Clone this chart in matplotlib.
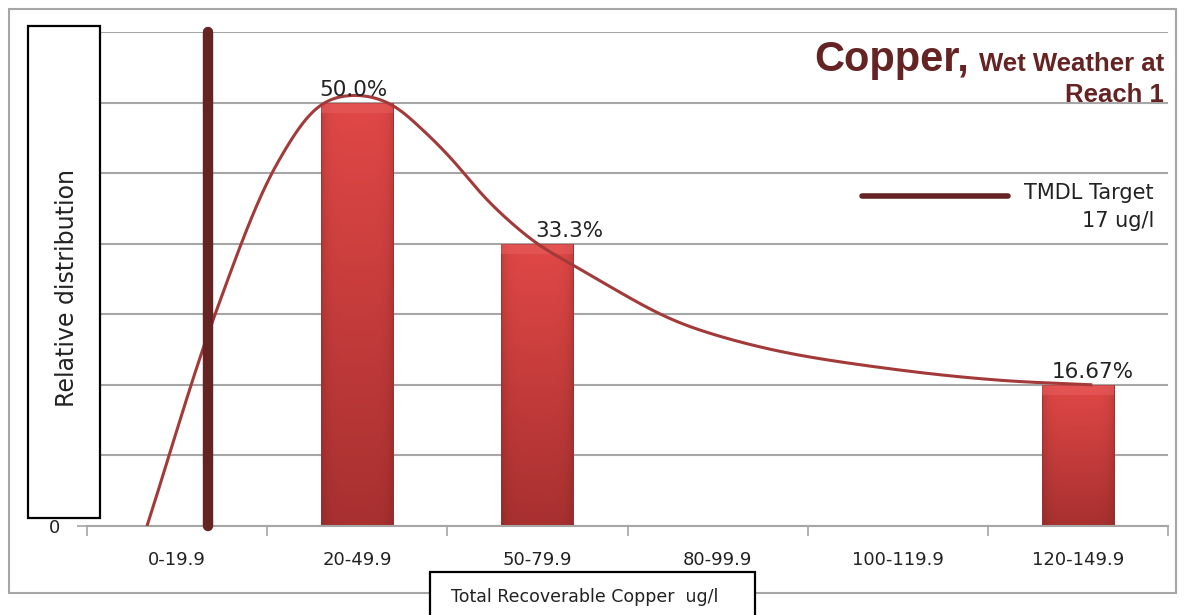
import matplotlib
matplotlib.use("Agg")
import matplotlib.pyplot as plt
import numpy as np
from matplotlib.patches import Rectangle
from matplotlib.lines import Line2D

# Category bins and relative distribution of samples
categories = ["0-19.9", "20-49.9", "50-79.9", "80-99.9", "100-119.9", "120-149.9"]
shares = [0.0, 0.5, 0.333, 0.0, 0.0, 0.1667]
share_labels = ["", "50.0%", "33.3%", "", "", "16.67%"]
label_x = [0.0, 0.98, 2.18, 3.0, 4.0, 5.08]

# Smoothed distribution curve (category units, relative share)
curve_x = [-0.167, 0.211, 0.56, 0.811, 1.006, 1.183,
           1.367, 1.517, 1.739, 2.0, 2.183, 2.311, 2.683,
           2.906, 3.35, 4.017, 4.572, 5.08]
curve_y = [0.0, 0.25, 0.43, 0.5, 0.509, 0.499,
           0.467, 0.435, 0.381, 0.333, 0.31, 0.294, 0.25,
           0.231, 0.206, 0.184, 0.172, 0.1667]

tmdl_x = 0.172  # 17 ug/l within the first bin
y_max = 7 / 12

W, H = 1186, 615
MAROON = "#652323"
CURVE = "#A33A3A"
GRID = "#A6A6A6"
SX, SY = 180.0, 848.0  # pixels per category / per unit share


def fig_xy(x, y):
    """Pixel position (from top-left) to figure fraction."""
    return x / W, 1 - y / H


def catmull_rom(p, n=40, alpha=0.5):
    """Centripetal Catmull-Rom spline through the rows of p."""
    pts = np.vstack([2 * p[0] - p[1], p, 2 * p[-1] - p[-2]])
    out = []
    for i in range(1, len(pts) - 2):
        p0, p1, p2, p3 = pts[i - 1], pts[i], pts[i + 1], pts[i + 2]
        t0 = 0.0
        t1 = t0 + np.linalg.norm(p1 - p0) ** alpha
        t2 = t1 + np.linalg.norm(p2 - p1) ** alpha
        t3 = t2 + np.linalg.norm(p3 - p2) ** alpha
        t = np.linspace(t1, t2, n, endpoint=False)[:, None]
        a1 = (t1 - t) / (t1 - t0) * p0 + (t - t0) / (t1 - t0) * p1
        a2 = (t2 - t) / (t2 - t1) * p1 + (t - t1) / (t2 - t1) * p2
        a3 = (t3 - t) / (t3 - t2) * p2 + (t - t2) / (t3 - t2) * p3
        b1 = (t2 - t) / (t2 - t0) * a1 + (t - t0) / (t2 - t0) * a2
        b2 = (t3 - t) / (t3 - t1) * a2 + (t - t1) / (t3 - t1) * a3
        out.append((t2 - t) / (t2 - t1) * b1 + (t - t1) / (t2 - t1) * b2)
    out.append(pts[-2][None, :])
    return np.vstack(out)


def smooth_curve(xs, ys, sigma=10.0):
    """Spline through the points, resampled by arc length and lightly
    gaussian-smoothed so the stroke has no visible corners."""
    p = catmull_rom(np.column_stack([np.asarray(xs) * SX, np.asarray(ys) * SY]))
    s = np.concatenate([[0], np.cumsum(np.hypot(*np.diff(p, axis=0).T))])
    s_new = np.append(np.arange(0, s[-1], 1.0), s[-1])
    x = np.interp(s_new, s, p[:, 0])
    y = np.interp(s_new, s, p[:, 1])
    pad = int(4 * sigma)
    xp = np.concatenate([2 * x[0] - x[pad:0:-1], x, 2 * x[-1] - x[-2:-pad - 2:-1]])
    yp = np.concatenate([2 * y[0] - y[pad:0:-1], y, 2 * y[-1] - y[-2:-pad - 2:-1]])
    k = np.exp(-0.5 * (np.arange(-pad, pad + 1) / sigma) ** 2)
    k /= k.sum()
    return np.convolve(xp, k, mode="valid") / SX, np.convolve(yp, k, mode="valid") / SY


fig = plt.figure(figsize=(W / 100, H / 100), dpi=100)
fig.patch.set_facecolor("white")

# outer chart frame
x0, y0 = fig_xy(9, 593)
x1, y1 = fig_xy(1176, 9)
fig.add_artist(Rectangle((x0, y0), x1 - x0, y1 - y0, transform=fig.transFigure,
                         fill=False, edgecolor=GRID, lw=1.5, zorder=0))

left, top = fig_xy(87, 32)
right, bottom = fig_xy(1168, 526)
ax = fig.add_axes([left, bottom, right - left, top - bottom])
ax.set_xlim(-0.5, len(categories) - 0.5)
ax.set_ylim(0, y_max)
ax.patch.set_alpha(0)

for s in ["top", "right", "left"]:
    ax.spines[s].set_visible(False)
ax.spines["bottom"].set_color(GRID)
ax.spines["bottom"].set_linewidth(1.5)

ax.set_yticks(np.arange(0, 8) / 12)
ax.set_yticklabels(["0"] + [""] * 7, fontsize=13, color="#222222")
ax.yaxis.grid(True, color=GRID, lw=1.5)
ax.set_axisbelow(True)
ax.tick_params(axis="y", length=7, color=GRID, width=1.2, pad=12)

ax.set_xticks(np.arange(-0.5, len(categories)), minor=False)
ax.set_xticklabels([])
ax.set_xticks(np.arange(len(categories)), minor=True)
ax.set_xticklabels(categories, minor=True, fontsize=13, color="#222222")
ax.tick_params(axis="x", which="major", length=7, color=GRID, width=1.2)
ax.tick_params(axis="x", which="minor", length=0, pad=18)

# bars with a vertical red gradient
bar_w = 0.4
grad_top = np.array([224, 72, 70]) / 255
grad_bot = np.array([168, 48, 48]) / 255
tv = np.linspace(0, 1, 100)[:, None]
th = np.linspace(-1, 1, 40)[None, :]
edge_dark = 1 - 0.12 * np.abs(th) ** 6
img = (grad_top[None, None, :] * (1 - tv[..., None]) + grad_bot[None, None, :] * tv[..., None])
img = img * edge_dark[..., None]

bars = ax.bar(range(len(categories)), shares, width=bar_w, color="none",
              edgecolor="#9a3030", lw=0.6, zorder=2)
for bar, val in zip(bars, shares):
    if val <= 0:
        continue
    bx, bw = bar.get_x(), bar.get_width()
    im = ax.imshow(img, extent=(bx, bx + bw, 0, val), aspect="auto",
                   origin="upper", zorder=1.9, interpolation="bilinear")
    im.set_clip_path(bar)
    ax.add_patch(Rectangle((bx, val - 0.012), bw, 0.012, color="#e86060",
                           alpha=0.5, lw=0, zorder=2.1))

for xi, val, txt in zip(label_x, shares, share_labels):
    if txt:
        ax.annotate(txt, (xi, val), xytext=(0, 2), textcoords="offset points",
                    ha="center", va="bottom", fontsize=15.5, color="#222222",
                    zorder=5)

# smoothed distribution curve
cx, cy = smooth_curve(curve_x, curve_y)
ax.plot(cx, cy, color=CURVE, lw=2.2, zorder=3, solid_capstyle="butt")

# TMDL target line
ax.plot([tmdl_x, tmdl_x], [0, y_max], color=MAROON, lw=7.5,
        solid_capstyle="round", zorder=4, clip_on=False)

# legend entry for the TMDL line
lx0, ly = fig_xy(862, 196)
lx1, _ = fig_xy(1008, 196)
fig.add_artist(Line2D([lx0, lx1], [ly, ly], transform=fig.transFigure,
                      color=MAROON, lw=4, solid_capstyle="round"))
tx, ty = fig_xy(1154, 193)
fig.text(tx, ty, "TMDL Target", ha="right", va="center", fontsize=15,
         color="#222222")
tx, ty = fig_xy(1154, 221)
fig.text(tx, ty, "17 ug/l", ha="right", va="center", fontsize=15,
         color="#222222")

# title
tx, ty = fig_xy(1164, 71)
fig.text(tx, ty, "Wet Weather at", ha="right", va="baseline", fontsize=18.5,
         fontweight="bold", color=MAROON, family="Liberation Sans")
tx2, _ = fig_xy(969, 71)
fig.text(tx2, ty, "Copper,", ha="right", va="baseline", fontsize=30,
         fontweight="bold", color=MAROON, family="Liberation Sans")
tx, ty = fig_xy(1164, 102)
fig.text(tx, ty, "Reach 1", ha="right", va="baseline", fontsize=18.5,
         fontweight="bold", color=MAROON, family="Liberation Sans")

# axis title boxes
bx0, by0 = fig_xy(28, 518)
bx1, by1 = fig_xy(100, 26)
fig.add_artist(Rectangle((bx0, by0), bx1 - bx0, by1 - by0, transform=fig.transFigure,
                         facecolor="white", edgecolor="black", lw=1.6, zorder=10))
tx, ty = fig_xy(67, 288)
fig.text(tx, ty, "Relative distribution", rotation=90, ha="center", va="center",
         fontsize=17, color="#222222", zorder=11)

bx0, by0 = fig_xy(430, 620)
bx1, by1 = fig_xy(755, 572)
fig.add_artist(Rectangle((bx0, by0), bx1 - bx0, by1 - by0, transform=fig.transFigure,
                         facecolor="white", edgecolor="black", lw=1.6, zorder=10))
tx, ty = fig_xy(585, 597)
fig.text(tx, ty, "Total Recoverable Copper  ug/l", ha="center", va="center",
         fontsize=12.5, color="#222222", zorder=11)

fig.savefig("out.png", dpi=100)
